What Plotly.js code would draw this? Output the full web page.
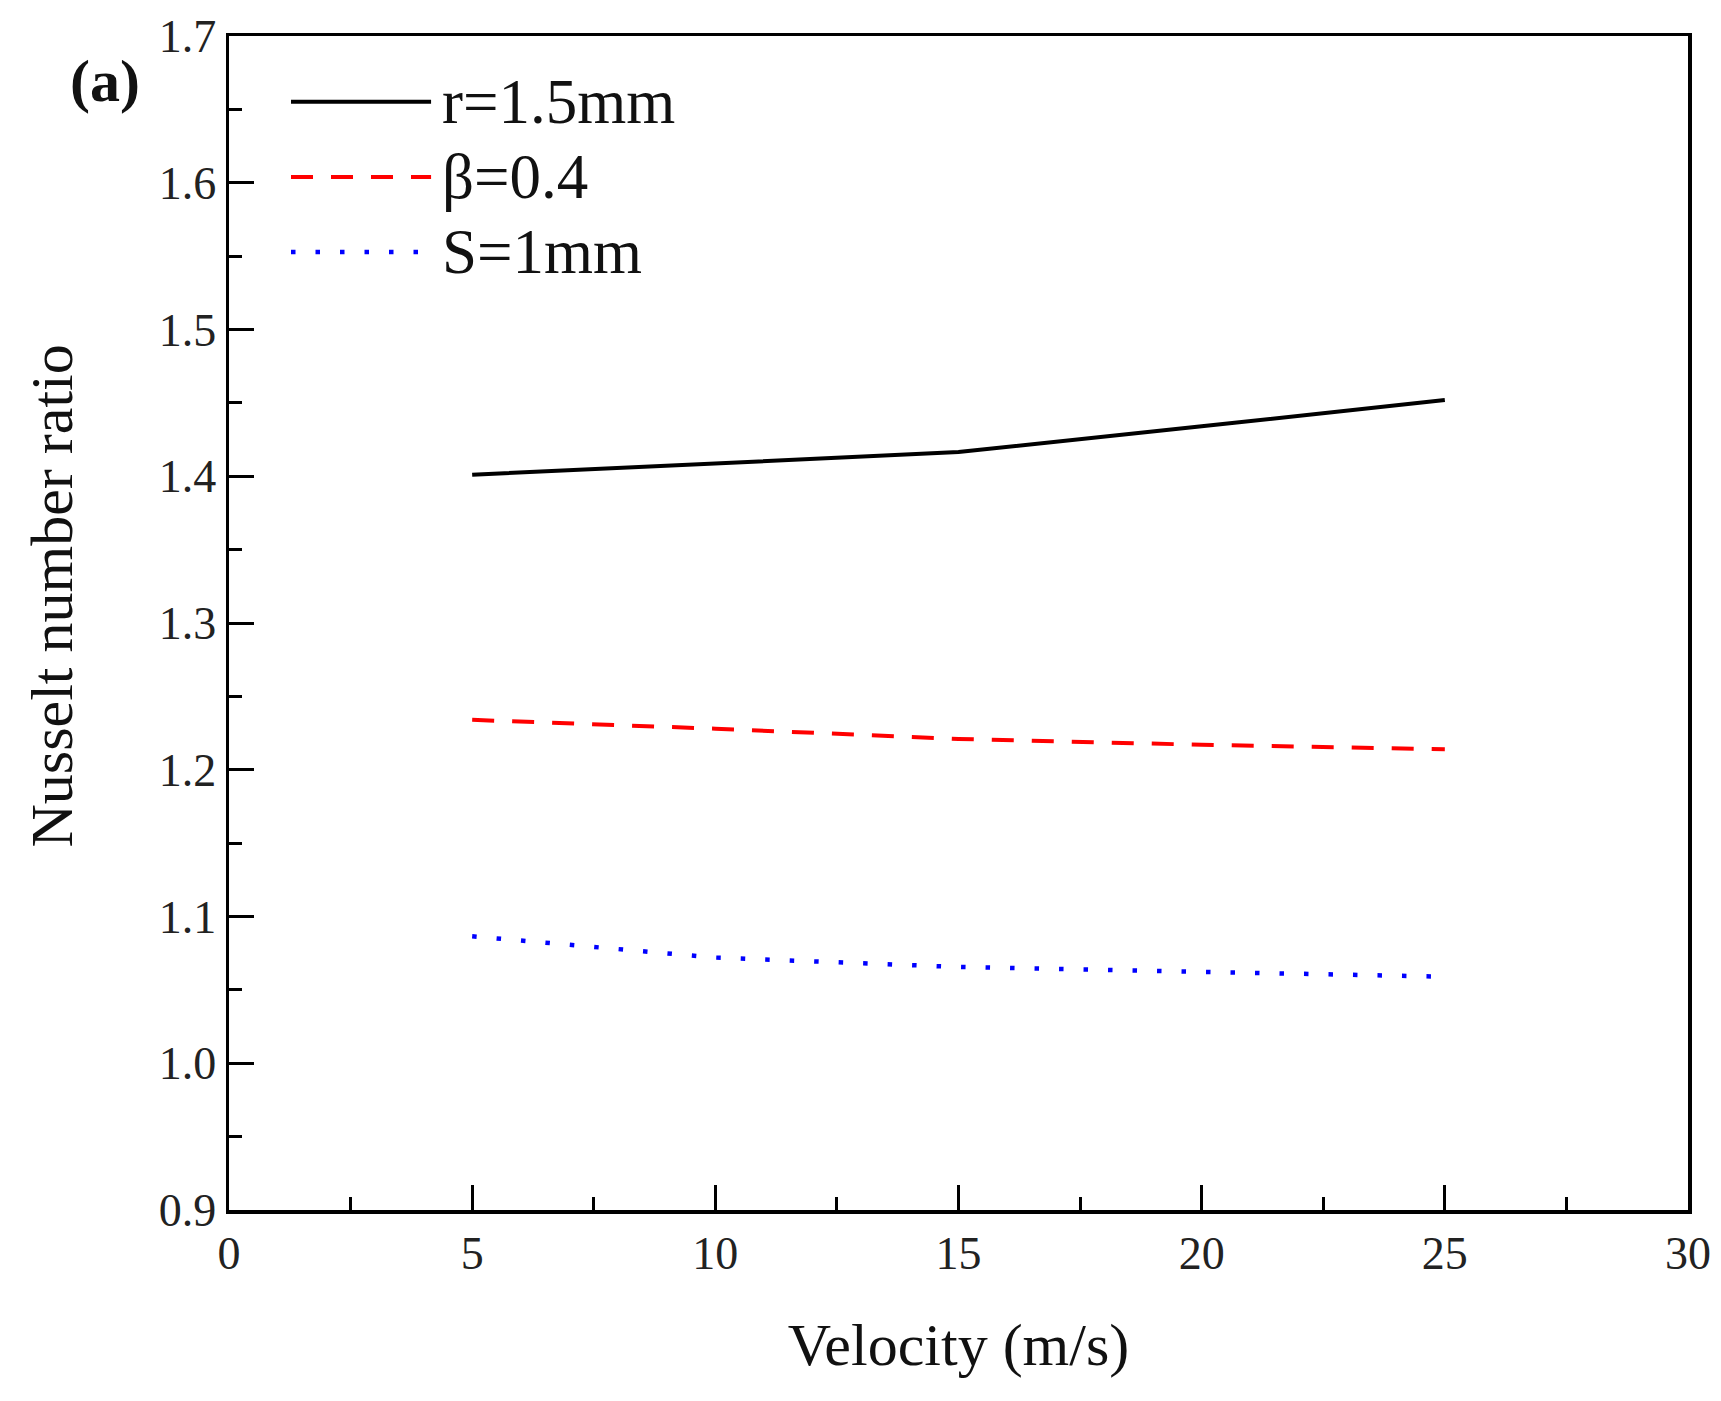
<!DOCTYPE html>
<html>
<head>
<meta charset="utf-8">
<script src="https://cdn.plot.ly/plotly-3.0.1.min.js"></script>
<style>
  body { margin: 0; background: #fff; }
  #chart { width: 1721px; height: 1401px; }
</style>
</head>
<body>
<div id="chart"></div>
<script>
// velocities (m/s)
var velocity = [5, 10, 15, 20, 25];

// Nusselt number ratio for each case
var nuRadius = [1.401, 1.409, 1.4165, 1.434, 1.452];
var nuBeta   = [1.234, 1.228, 1.221, 1.217, 1.214];
var nuGap    = [1.0865, 1.072, 1.0656, 1.062, 1.059];

var seriesNames = ['r=1.5mm', '\u03b2=0.4', 'S=1mm'];
var seriesColors = ['#000000', '#ff0000', '#0000ff'];
var seriesDash = ['solid', '22px,18px', '4.5px,20px'];
var seriesValues = [nuRadius, nuBeta, nuGap];

var serif = 'Liberation Serif, Times New Roman, serif';

var data = seriesValues.map(function (vals, i) {
    return {
        x: velocity,
        y: vals,
        type: 'scatter',
        mode: 'lines',
        name: seriesNames[i],
        showlegend: false,
        line: { color: seriesColors[i], width: i === 2 ? 4.5 : 4, dash: seriesDash[i] }
    };
});

// hand-drawn legend with long line samples like the original figure
var shapes = [];
var annotations = [];
var rowY = [0.944, 0.880, 0.816];
seriesNames.forEach(function (name, i) {
    shapes.push({
        type: 'line', xref: 'paper', yref: 'paper',
        x0: 0.0425, x1: 0.1385, y0: rowY[i], y1: rowY[i],
        line: { color: seriesColors[i], width: i === 2 ? 4.5 : 4, dash: seriesDash[i] }
    });
    annotations.push({
        xref: 'paper', yref: 'paper', x: 0.1445, y: rowY[i],
        xanchor: 'left', yanchor: 'middle', showarrow: false,
        text: name, font: { family: serif, size: 63, color: '#111' }
    });
});

annotations.push({
    xref: 'paper', yref: 'paper', x: -0.085, y: 0.962,
    xanchor: 'center', yanchor: 'middle', showarrow: false,
    text: '<b>(a)</b>', font: { family: serif, size: 60, color: '#111' }
});

// y axis title placed a little above centre, as in the source figure
annotations.push({
    xref: 'paper', yref: 'paper', x: -0.121, y: 0.523,
    xanchor: 'center', yanchor: 'middle', showarrow: false, textangle: -90,
    text: 'Nusselt number ratio', font: { family: serif, size: 60, color: '#111' }
});

var axisBase = {
    showgrid: false,
    zeroline: false,
    showline: true,
    linecolor: '#000',
    linewidth: 3.5,
    mirror: true,
    ticks: 'inside',
    ticklen: 25,
    tickwidth: 3,
    tickcolor: '#000',
    tickfont: { family: serif, size: 46, color: '#222' }
};

var layout = {
    width: 1721,
    height: 1401,
    margin: { l: 229, r: 33, t: 36, b: 191 },
    paper_bgcolor: '#fff',
    plot_bgcolor: '#fff',
    xaxis: Object.assign({}, axisBase, {
        range: [0, 30],
        dtick: 5,
        tick0: 0,
        minor: { dtick: 2.5, ticks: 'inside', ticklen: 13, tickwidth: 3, tickcolor: '#000' },
        title: { text: 'Velocity (m/s)', font: { family: serif, size: 60, color: '#111' }, standoff: 46 }
    }),
    yaxis: Object.assign({}, axisBase, {
        range: [0.9, 1.7],
        dtick: 0.1,
        tick0: 0.9,
        tickformat: '.1f',
        minor: { dtick: 0.05, ticks: 'inside', ticklen: 13, tickwidth: 3, tickcolor: '#000' }
    }),
    shapes: shapes,
    annotations: annotations
};

Plotly.newPlot('chart', data, layout, { staticPlot: true });
</script>
</body>
</html>
